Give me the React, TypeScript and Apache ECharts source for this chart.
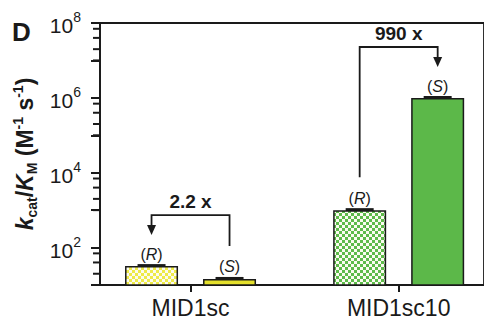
import { useEffect, useRef } from "react";
import * as echarts from "echarts";

// ---- data ----
const CATEGORIES = ["MID1sc", "MID1sc10"];
const R_VALUES = [32, 1000];
const S_VALUES = [14.5, 990000];
const FOLD_LABELS = ["2.2 x", "990 x"];
const MAJOR_TICKS = [100, 1e4, 1e6, 1e8];
const MINOR_TICKS = [20, 40, 70, 1e3, 2e3, 4e3, 7e3, 1e5, 2e5, 4e5, 7e5, 1e7, 2e7, 4e7, 7e7];
const Y_MIN = 10;
const Y_MAX = 1e8;

// ---- style / layout ----
const FONT = "'Liberation Sans', Arial, Helvetica, sans-serif";
const INK = "#1a1a1a";
const YELLOW = "#e4e02c";
const YELLOW_CHECK = "#eeea48";
const GREEN = "#5cb849";
const GREEN_CHECK = "#5dbb4a";
const BAR_W = 53;
const BAR_GAP = 25;
const HALF_OFFSET = (BAR_W + BAR_GAP) / 2;
const GRID_LEFT = 100;
const X_MIN = -0.435;
const X_MAX = 1.41;

function checker(color: string) {
  const c = document.createElement("canvas");
  c.width = 6;
  c.height = 6;
  const ctx = c.getContext("2d")!;
  ctx.fillStyle = "#fbfbf0";
  ctx.fillRect(0, 0, 6, 6);
  ctx.fillStyle = color;
  ctx.fillRect(0, 0, 3, 3);
  ctx.fillRect(3, 3, 3, 3);
  return { image: c, repeat: "repeat", imageWidth: 6, imageHeight: 6 } as any;
}

export default function App() {
  const ref = useRef<HTMLDivElement>(null);
  useEffect(() => {
    if (!ref.current) return;
    const chart = echarts.init(ref.current, null, { renderer: "svg" });
    const patterns = [checker(YELLOW_CHECK), checker(GREEN_CHECK)];
    const solids = [YELLOW, GREEN];
    const lineStyle = { color: INK, width: 1.8 };
    const barLabel = (letter: string) => ({
      show: true,
      position: "top",
      distance: 4,
      formatter: `({it|${letter}})`,
      fontSize: 16,
      fontFamily: FONT,
      color: INK,
      rich: { it: { fontStyle: "italic", fontSize: 16, fontFamily: FONT, color: INK } },
    });
    const tickData = MINOR_TICKS.map((v) => [X_MIN, v, 7]);
    const majorExps = MAJOR_TICKS.map((t) => Math.round(Math.log10(t)));
    const option: any = {
      animation: false,
      grid: {
        left: GRID_LEFT,
        right: -2,
        top: 23,
        bottom: 36,
        show: true,
        borderColor: INK,
        borderWidth: 1.8,
        backgroundColor: "transparent",
      },
      xAxis: [
        {
          type: "value",
          min: X_MIN,
          max: X_MAX,
          splitLine: { show: false },
          axisLine: { show: true, onZero: false, lineStyle },
          axisTick: { show: true, customValues: [0, 1], length: 7, lineStyle: { color: INK, width: 2 } },
          axisLabel: {
            customValues: [0, 1],
            formatter: (v: number) => CATEGORIES[Math.round(v)] ?? "",
            fontSize: 23,
            fontFamily: FONT,
            color: INK,
            margin: 11,
          },
        },
      ],
      yAxis: [
        {
          type: "log",
          logBase: 10,
          min: Y_MIN,
          max: Y_MAX,
          interval: 1,
          position: "left",
          splitLine: { show: false },
          axisLine: { show: true, onZero: false, lineStyle },
          axisTick: { show: true, inside: false, length: 9, lineStyle: { color: INK, width: 2 } },
          axisLabel: {
            showMinLabel: true,
            showMaxLabel: true,
            interval: 0,
            formatter: (v: number) => {
              const e = Math.round(Math.log10(v));
              return majorExps.includes(e) ? `{b|10}{sup|${e}}` : "";
            },
            margin: 19,
            rich: {
              b: { fontSize: 21, fontFamily: FONT, color: INK, lineHeight: 26, verticalAlign: "bottom" },
              sup: { fontSize: 14, fontFamily: FONT, color: INK, lineHeight: 14, verticalAlign: "top" },
            },
          },
          name: "{i|k}{sub|cat}{n|/}{i|K}{sub|M}{n| (M}{sup|-1}{n| s}{sup|-1}{n|)}",
          nameLocation: "middle",
          nameRotate: 90,
          nameGap: 56,
          nameTextStyle: {
            fontFamily: FONT,
            fontWeight: "bold",
            fontSize: 23,
            color: INK,
            rich: {
              i: { fontStyle: "italic", fontWeight: "bold", fontSize: 23, fontFamily: FONT, color: INK, lineHeight: 28 },
              n: { fontWeight: "bold", fontSize: 23, fontFamily: FONT, color: INK, lineHeight: 28 },
              sub: { fontWeight: "bold", fontSize: 14, fontFamily: FONT, color: INK, lineHeight: 14, verticalAlign: "bottom" },
              sup: { fontWeight: "bold", fontSize: 14, fontFamily: FONT, color: INK, lineHeight: 14, verticalAlign: "top" },
            },
          },
        },
      ],
      series: [
        {
          name: "R",
          type: "bar",
          barWidth: BAR_W,
          barGap: `${(BAR_GAP / BAR_W) * 100}%`,
          clip: true,
          label: barLabel("R"),
          itemStyle: { borderColor: INK, borderWidth: 1.5 },
          data: R_VALUES.map((v, i) => ({ value: [i, v], itemStyle: { color: patterns[i] } })),
        },
        {
          name: "S",
          type: "bar",
          barWidth: BAR_W,
          barGap: `${(BAR_GAP / BAR_W) * 100}%`,
          clip: true,
          label: barLabel("S"),
          itemStyle: { borderColor: INK, borderWidth: 1.5 },
          data: S_VALUES.map((v, i) => ({ value: [i, v], itemStyle: { color: solids[i] } })),
        },
        {
          name: "yMinorTicks",
          type: "custom",
          clip: false,
          silent: true,
          z: 20,
          data: tickData,
          renderItem: (params: any, api: any) => {
            const p = api.coord([api.value(0), api.value(1)]);
            const len = api.value(2);
            return {
              type: "rect",
              shape: { x: p[0] - len, y: p[1] - 1, width: len, height: 2 },
              style: { fill: INK },
            };
          },
        },
      ],
    };
    chart.setOption(option);

    const px = (x: number, y: number) =>
      chart.convertToPixel({ xAxisIndex: 0, yAxisIndex: 0 }, [x, y]) as number[];
    const graphics: any[] = [
      {
        type: "text",
        left: 12,
        top: 19,
        style: { text: "D", font: `bold 26px ${FONT}`, fill: INK },
      },
    ];
    CATEGORIES.forEach((_, i) => {
      const [cx, yR] = px(i, R_VALUES[i]);
      const yS = px(i, S_VALUES[i])[1];
      const xR = cx - HALF_OFFSET;
      const xS = cx + HALF_OFFSET;
      // error caps
      [
        [xR, yR],
        [xS, yS],
      ].forEach(([x, y]) => {
        graphics.push({
          type: "rect",
          shape: { x: x - 14, y: y - 2, width: 28, height: 3 },
          style: { fill: INK },
        });
      });
      const rHigher = yR < yS;
      const xHi = rHigher ? xR : xS;
      const yHi = rHigher ? yR : yS;
      const xLo = rHigher ? xS : xR;
      const yLo = rHigher ? yS : yR;
      const yH = yHi - 51;
      const tip = yHi - 31;
      const loEnd = yLo - 33;
      graphics.push({
        type: "polyline",
        shape: { points: [[xLo, loEnd], [xLo, yH], [xHi, yH], [xHi, tip - 8]] },
        style: { stroke: INK, lineWidth: 1.8, fill: null },
      });
      graphics.push({
        type: "polygon",
        shape: { points: [[xHi - 4.5, tip - 10], [xHi + 4.5, tip - 10], [xHi, tip]] },
        style: { fill: INK },
      });
      graphics.push({
        type: "text",
        x: (xLo + xHi) / 2,
        y: yH - 4,
        style: {
          text: FOLD_LABELS[i],
          font: `bold 19px ${FONT}`,
          fill: INK,
          align: "center",
          verticalAlign: "bottom",
        },
      });
    });
    chart.setOption({ graphic: graphics });
    return () => chart.dispose();
  }, []);
  return (
    <div
      ref={ref}
      style={{ position: "absolute", left: 0, top: 0, width: 484, height: 321, background: "#fff" }}
    />
  );
}
